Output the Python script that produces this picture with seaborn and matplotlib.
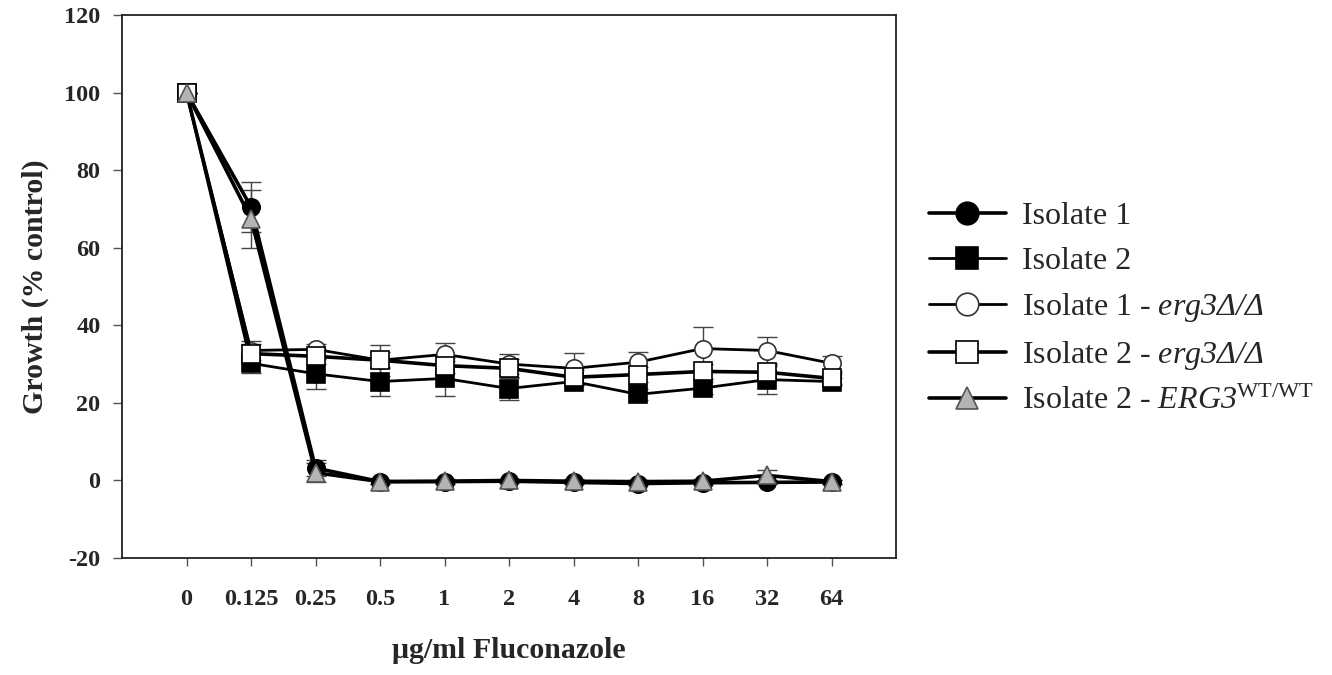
"""Fluconazole dose response of the isolates and their ERG3 derivatives."""

import matplotlib
matplotlib.use("Agg")
import matplotlib.pyplot as plt
import numpy as np
import pandas as pd
import seaborn as sns

# Concentrations (categorical axis) and mean growth (% of drug-free control)
conc_labels = ["0", "0.125", "0.25", "0.5", "1", "2", "4", "8", "16", "32", "64"]

iso1 = [100, 70.5, 3.2, -0.3, -0.3, -0.2, -0.5, -0.8, -0.6, -0.5, -0.4]
iso2 = [100, 30.2, 27.5, 25.5, 26.3, 23.7, 25.5, 22.2, 23.8, 26.0, 25.5]
iso1_erg3 = [100, 33.5, 33.8, 31.0, 32.5, 30.0, 28.9, 30.5, 34.0, 33.5, 30.2]
iso2_erg3 = [100, 32.7, 32.0, 31.0, 29.6, 28.9, 26.6, 27.3, 28.1, 27.9, 26.3]
iso2_wt = [100, 67.5, 2.0, -0.3, -0.2, 0.0, -0.2, -0.3, -0.2, 1.3, -0.3]

# Standard deviations
iso1_sd = [0, 6.5, 2.0, 0.5, 0.5, 0.5, 0.5, 0.5, 0.5, 0.5, 0.5]
iso2_sd = [0, 2.5, 3.9, 3.8, 4.6, 3.0, 1.0, 1.5, 1.5, 3.6, 1.0]
iso1_erg3_sd = [0, 2.5, 1.5, 4.0, 3.0, 2.5, 4.0, 2.5, 5.5, 3.5, 2.0]
iso2_erg3_sd = [0, 2.5, 2.0, 2.0, 2.0, 2.5, 2.0, 2.0, 2.0, 2.0, 1.5]
iso2_wt_sd = [0, 7.5, 2.5, 0.5, 0.5, 0.5, 0.5, 0.5, 0.5, 1.5, 0.5]

# mathtext: rm and it both italic so digits / Greek stay italic, sf is upright
series_names = [
    "Isolate 1",
    "Isolate 2",
    r"Isolate 1 - $\mathit{erg3\Delta/\Delta}$",
    r"Isolate 2 - $\mathit{erg3\Delta/\Delta}$",
    r"Isolate 2 - $\mathit{ERG3}^{\mathsf{WT/WT}}$",
]
series_values = [iso1, iso2, iso1_erg3, iso2_erg3, iso2_wt]
series_sd = [iso1_sd, iso2_sd, iso1_erg3_sd, iso2_erg3_sd, iso2_wt_sd]

# marker, face colour, edge colour, line width
styles = [
    ("o", "black", "black", 2.6),
    ("s", "black", "black", 2.0),
    ("o", "white", "#333333", 2.0),
    ("s", "white", "black", 2.6),
    ("^", "#b4b4b4", "#555555", 2.6),
]

frames = []
for name, vals, sd in zip(series_names, series_values, series_sd):
    frames.append(pd.DataFrame({
        "series": name,
        "pos": np.arange(len(conc_labels)),
        "growth": vals,
        "sd": sd,
    }))
df = pd.concat(frames, ignore_index=True)

sns.set_style("white")
plt.rcParams["font.family"] = ["Liberation Serif", "DejaVu Serif"]
plt.rcParams["axes.unicode_minus"] = False
plt.rcParams["mathtext.fontset"] = "custom"
plt.rcParams["mathtext.rm"] = "Liberation Serif:italic"
plt.rcParams["mathtext.it"] = "Liberation Serif:italic"
plt.rcParams["mathtext.sf"] = "Liberation Serif"

fig = plt.figure(figsize=(13.32, 6.75), dpi=100)
ax = fig.add_axes([0.0916, 0.1733, 0.5811, 0.8045])

# error bars behind the markers
for name in series_names:
    sub = df[df["series"] == name]
    ax.errorbar(sub["pos"], sub["growth"], yerr=sub["sd"], fmt="none",
                ecolor="#444444", elinewidth=1.0, capsize=7, capthick=1.0, zorder=1)

for i, name in enumerate(series_names):
    marker, face, edge, lw = styles[i]
    sub = df[df["series"] == name]
    sns.lineplot(data=sub, x="pos", y="growth", ax=ax, color="black",
                 linewidth=lw, marker=marker, markersize=12.5,
                 markerfacecolor=face, markeredgecolor=edge, markeredgewidth=1.2,
                 label=name, zorder=2 + i, sort=False)

ax.set_xlim(-1, 11)
ax.set_ylim(-20, 120)
ax.set_xticks(np.arange(len(conc_labels)))
ax.set_xticklabels(conc_labels)
ax.set_yticks(np.arange(-20, 121, 20))

for side in ["top", "right", "bottom", "left"]:
    ax.spines[side].set_visible(True)
    ax.spines[side].set_color("#222222")
    ax.spines[side].set_linewidth(1.3)

ax.tick_params(axis="x", bottom=True, direction="out", length=6, width=1,
               color="#555555", pad=16, labelsize=17.5)
ax.tick_params(axis="y", left=True, direction="out", length=6.5, width=1,
               color="#555555", pad=9, labelsize=17.5)
for lbl in ax.get_xticklabels() + ax.get_yticklabels():
    lbl.set_fontweight("bold")

ax.set_xlabel("\u03bcg/ml Fluconazole", fontsize=21.5, fontweight="bold", labelpad=20)
ax.set_ylabel("Growth (% control)", fontsize=21.5, fontweight="bold", labelpad=11)

ax.legend(loc="center left", bbox_to_anchor=(0.6975, 0.542),
          bbox_transform=fig.transFigure, frameon=False, fontsize=23,
          markerscale=1.3, handlelength=2.4, handletextpad=0.5,
          labelspacing=0.47, borderaxespad=0, borderpad=0)

fig.savefig("out.png", dpi=100, facecolor="white")
plt.close(fig)
